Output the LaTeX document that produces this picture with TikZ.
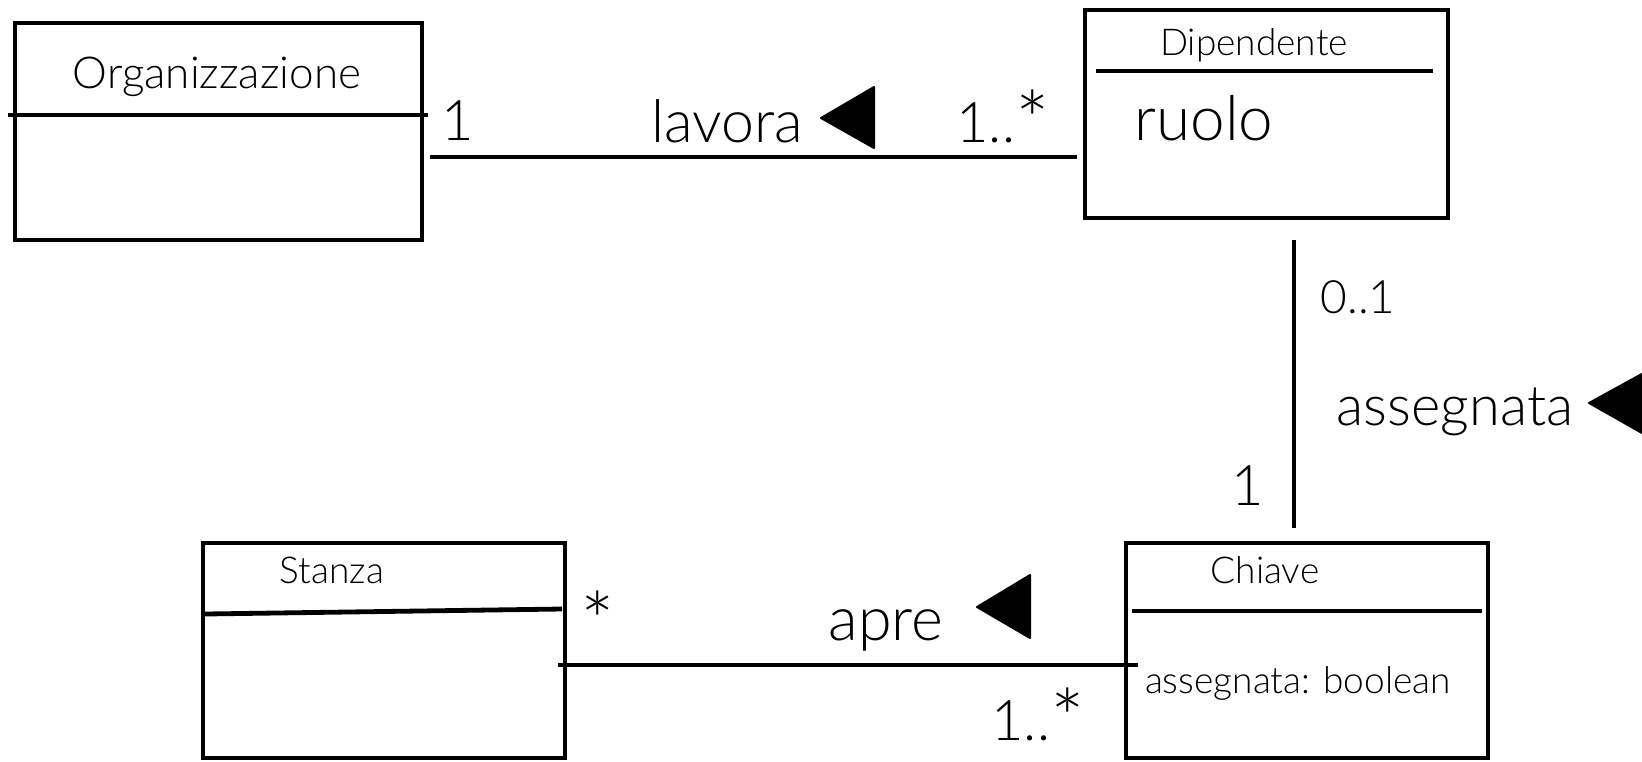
\documentclass[tikz,border=0pt]{standalone}
\usepackage{fontspec}
\IfFontExistsTF{Lato Light}{\setmainfont{Lato Light}}{\setmainfont{Lato}}
\usetikzlibrary{calc}
\newcommand\Star{\raisebox{-.3ex}{\scalebox{1.45}{*}}}

\begin{document}
\begin{tikzpicture}[x=0.5pt,y=-0.5pt]
  \tikzset{
    classbox/.style={draw,line width=2.3pt,rectangle,inner sep=0pt},
    divider/.style={line width=2.4pt},
    assoc/.style={line width=2.3pt},
    dirtri/.style={fill,draw,line width=1pt,line join=round},
    bigtxt/.style={inner sep=0pt,font=\fontsize{28}{32}\selectfont},
    midtxt/.style={inner sep=0pt,font=\fontsize{23}{27}\selectfont},
    smalltxt/.style={inner sep=0pt,font=\fontsize{18.5}{22}\selectfont}
  }
  \useasboundingbox (0,0) rectangle (1642,761);

  % the four classes (sizes in pt, one pixel is half a point)
  \node[classbox,minimum width=203.5pt,minimum height=108.5pt] (org) at (218.5,131.5) {};
  \node[classbox,minimum width=181.5pt,minimum height=104pt] (dip) at (1266.5,114) {};
  \node[classbox,minimum width=181pt,minimum height=107.5pt] (stanza) at (384,650.5) {};
  \node[classbox,minimum width=181pt,minimum height=107.5pt] (chiave) at (1307,650.5) {};

  % compartment lines
  \draw[divider] (8,115) -- (428,115);
  \draw[divider] (1096,71) -- (1433,71);
  \draw[divider] (205,614) -- (562,609);
  \draw[divider] (1132,611) -- (1482,611);

  % class names and attributes
  \node[smalltxt,font=\fontsize{22}{26}\selectfont,anchor=base] (orgName) at (217,88) {Organizzazione};
  \node[smalltxt,anchor=base] (dipName) at (1254,55) {Dipendente};
  \node[bigtxt,font=\fontsize{31}{35}\selectfont,anchor=base west] (ruolo) at (1134,140) {ruolo};
  \node[smalltxt,anchor=base] (stanzaName) at (332,583) {Stanza};
  \node[smalltxt,anchor=base] (chiaveName) at (1265,583) {Chiave};
  \node[smalltxt,anchor=base] (assAttr) at (1298,693) {assegnata: boolean};

  % associations
  \coordinate (lavY) at (0,157);
  \coordinate (assX) at (1294,0);
  \coordinate (apreY) at (0,665);
  \draw[assoc,shorten <=3pt,shorten >=3pt] (org.east |- lavY) -- (dip.west |- lavY);
  \draw[assoc,shorten <=10pt,shorten >=6.5pt] (dip.south -| assX) -- (chiave.north -| assX);
  \draw[assoc,shorten <=-4.5pt,shorten >=-7pt] (stanza.east |- apreY) -- (chiave.west |- apreY);

  % association names with reading direction
  \node[bigtxt,font=\fontsize{29.5}{33}\selectfont,anchor=base] (lavora) at (727,142) {lavora};
  \draw[dirtri] (821,118) -- ++(53,-31) -- ++(0,61) -- cycle;
  \node[bigtxt,anchor=base] (assegnata) at (1455,425) {assegnata};
  \draw[dirtri] (1589,403) -- ++(60,-33) -- ++(0,67) -- cycle;
  \node[bigtxt,font=\fontsize{30.5}{34}\selectfont,anchor=base] (apre) at (886,640) {apre};
  \draw[dirtri] (977,607) -- ++(53,-32) -- ++(0,63) -- cycle;

  % multiplicities
  \node[bigtxt,anchor=base] (mOrg) at (458,140) {1};
  \node[bigtxt,anchor=base] (mDip) at (1003,142) {1..\Star};
  \node[midtxt,anchor=base] (mDipK) at (1358,313) {0..1};
  \node[bigtxt,anchor=base] (mKey) at (1248,505) {1};
  \node[bigtxt,anchor=north] (mStanza) at (598,590) {\Star};
  \node[bigtxt,anchor=base] (mKeyS) at (1038,740) {1..\Star};
\end{tikzpicture}
\end{document}
